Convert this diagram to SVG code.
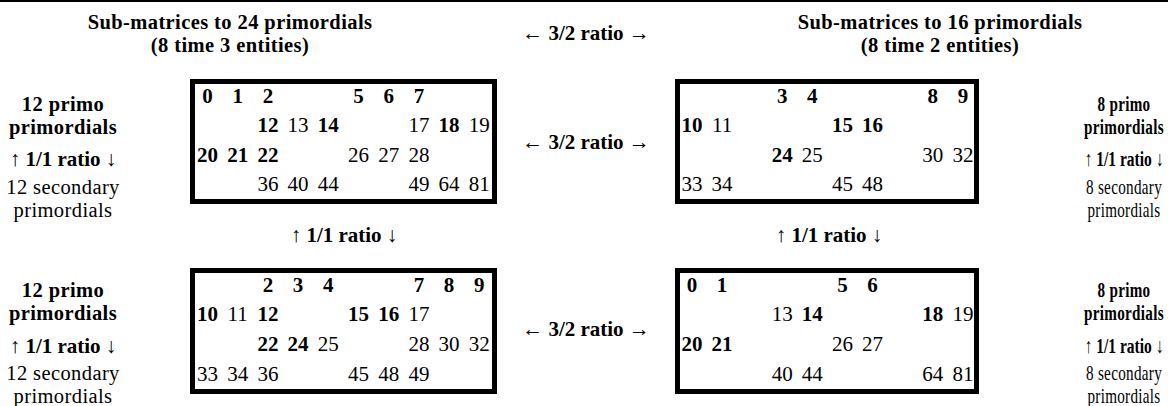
<svg xmlns="http://www.w3.org/2000/svg" width="1168" height="406" viewBox="0 0 1168 406">
<style>
text{font-family:"Liberation Serif","Times New Roman",serif;font-size:21px;fill:#000;text-anchor:middle}
.b{font-weight:bold}
.r{font-weight:normal}
.t{font-size:20.5px;letter-spacing:0.4px}
.box{fill:#fff;stroke:#000;stroke-width:5}
</style>
<rect width="1168" height="406" fill="#fff"/>
<line x1="0" y1="1" x2="1168" y2="1" stroke="#000" stroke-width="2"/>
<g id="titles">
<text class="b t" x="230" y="29">Sub-matrices to 24 primordials</text>
<text class="b t" x="230" y="52">(8 time 3 entities)</text>
<text class="b t" x="940" y="29">Sub-matrices to 16 primordials</text>
<text class="b t" x="940" y="52">(8 time 2 entities)</text>
</g>
<g id="ratios">
<text class="b" x="586" y="40"><tspan class="r">←</tspan> 3/2 ratio <tspan class="r">→</tspan></text>
<text class="b" x="586" y="149"><tspan class="r">←</tspan> 3/2 ratio <tspan class="r">→</tspan></text>
<text class="b" x="586" y="336"><tspan class="r">←</tspan> 3/2 ratio <tspan class="r">→</tspan></text>
<text class="b" x="344" y="242"><tspan class="r">↑</tspan> 1/1 ratio <tspan class="r">↓</tspan></text>
<text class="b" x="829" y="242"><tspan class="r">↑</tspan> 1/1 ratio <tspan class="r">↓</tspan></text>
</g>
<g id="label-left-top">
<text class="b t" x="63" y="111">12 primo</text>
<text class="b t" x="63" y="134">primordials</text>
<text class="b" x="63" y="166"><tspan class="r">↑</tspan> 1/1 ratio <tspan class="r">↓</tspan></text>
<text class="t" x="63" y="194">12 secondary</text>
<text class="t" x="63" y="217">primordials</text>
</g>
<g id="label-left-bottom">
<text class="b t" x="63" y="297">12 primo</text>
<text class="b t" x="63" y="320">primordials</text>
<text class="b" x="63" y="353"><tspan class="r">↑</tspan> 1/1 ratio <tspan class="r">↓</tspan></text>
<text class="t" x="63" y="380">12 secondary</text>
<text class="t" x="63" y="403">primordials</text>
</g>
<g id="label-right-top" transform="matrix(0.74 0 0 1 292.24 0)">
<text class="b t" x="1124" y="111">8 primo</text>
<text class="b t" x="1124" y="134">primordials</text>
<text class="b" x="1124" y="166"><tspan class="r">↑</tspan> 1/1 ratio <tspan class="r">↓</tspan></text>
<text class="t" x="1124" y="194">8 secondary</text>
<text class="t" x="1124" y="217">primordials</text>
</g>
<g id="label-right-bottom" transform="matrix(0.74 0 0 1 292.24 0)">
<text class="b t" x="1124" y="297">8 primo</text>
<text class="b t" x="1124" y="320">primordials</text>
<text class="b" x="1124" y="353"><tspan class="r">↑</tspan> 1/1 ratio <tspan class="r">↓</tspan></text>
<text class="t" x="1124" y="380">8 secondary</text>
<text class="t" x="1124" y="403">primordials</text>
</g>
<g id="matrix-24-top">
<rect class="box" x="192.5" y="81.5" width="302" height="120"/>
<text class="b" x="207.5" y="103">0</text><text class="b" x="237.7" y="103">1</text><text class="b" x="267.9" y="103">2</text>
<text class="b" x="358.5" y="103">5</text><text class="b" x="388.7" y="103">6</text><text class="b" x="418.9" y="103">7</text>
<text class="b" x="267.9" y="132">12</text><text x="298.1" y="132">13</text><text class="b" x="328.3" y="132">14</text>
<text x="418.9" y="132">17</text><text class="b" x="449.1" y="132">18</text><text x="479.3" y="132">19</text>
<text class="b" x="207.5" y="162">20</text><text class="b" x="237.7" y="162">21</text><text class="b" x="267.9" y="162">22</text>
<text x="358.5" y="162">26</text><text x="388.7" y="162">27</text><text x="418.9" y="162">28</text>
<text x="267.9" y="191">36</text><text x="298.1" y="191">40</text><text x="328.3" y="191">44</text>
<text x="418.9" y="191">49</text><text x="449.1" y="191">64</text><text x="479.3" y="191">81</text>
</g>
<g id="matrix-16-top">
<rect class="box" x="677.5" y="81.5" width="299" height="120"/>
<text class="b" x="782.2" y="103">3</text><text class="b" x="812.3" y="103">4</text>
<text class="b" x="932.8" y="103">8</text><text class="b" x="962.9" y="103">9</text>
<text class="b" x="692" y="132">10</text><text x="722.1" y="132">11</text>
<text class="b" x="842.5" y="132">15</text><text class="b" x="872.6" y="132">16</text>
<text class="b" x="782.2" y="162">24</text><text x="812.3" y="162">25</text>
<text x="932.8" y="162">30</text><text x="962.9" y="162">32</text>
<text x="692" y="191">33</text><text x="722.1" y="191">34</text>
<text x="842.5" y="191">45</text><text x="872.6" y="191">48</text>
</g>
<g id="matrix-24-bottom">
<rect class="box" x="192.5" y="270.5" width="302" height="121"/>
<text class="b" x="267.9" y="292">2</text><text class="b" x="298.1" y="292">3</text><text class="b" x="328.3" y="292">4</text>
<text class="b" x="418.9" y="292">7</text><text class="b" x="449.1" y="292">8</text><text class="b" x="479.3" y="292">9</text>
<text class="b" x="207.5" y="321">10</text><text x="237.7" y="321">11</text><text class="b" x="267.9" y="321">12</text>
<text class="b" x="358.5" y="321">15</text><text class="b" x="388.7" y="321">16</text><text x="418.9" y="321">17</text>
<text class="b" x="267.9" y="351">22</text><text class="b" x="298.1" y="351">24</text><text x="328.3" y="351">25</text>
<text x="418.9" y="351">28</text><text x="449.1" y="351">30</text><text x="479.3" y="351">32</text>
<text x="207.5" y="381">33</text><text x="237.7" y="381">34</text><text x="267.9" y="381">36</text>
<text x="358.5" y="381">45</text><text x="388.7" y="381">48</text><text x="418.9" y="381">49</text>
</g>
<g id="matrix-16-bottom">
<rect class="box" x="677.5" y="270.5" width="299" height="121"/>
<text class="b" x="692" y="292">0</text><text class="b" x="722.1" y="292">1</text>
<text class="b" x="842.5" y="292">5</text><text class="b" x="872.6" y="292">6</text>
<text x="782.2" y="321">13</text><text class="b" x="812.3" y="321">14</text>
<text class="b" x="932.8" y="321">18</text><text x="962.9" y="321">19</text>
<text class="b" x="692" y="351">20</text><text class="b" x="722.1" y="351">21</text>
<text x="842.5" y="351">26</text><text x="872.6" y="351">27</text>
<text x="782.2" y="381">40</text><text x="812.3" y="381">44</text>
<text x="932.8" y="381">64</text><text x="962.9" y="381">81</text>
</g>
</svg>
